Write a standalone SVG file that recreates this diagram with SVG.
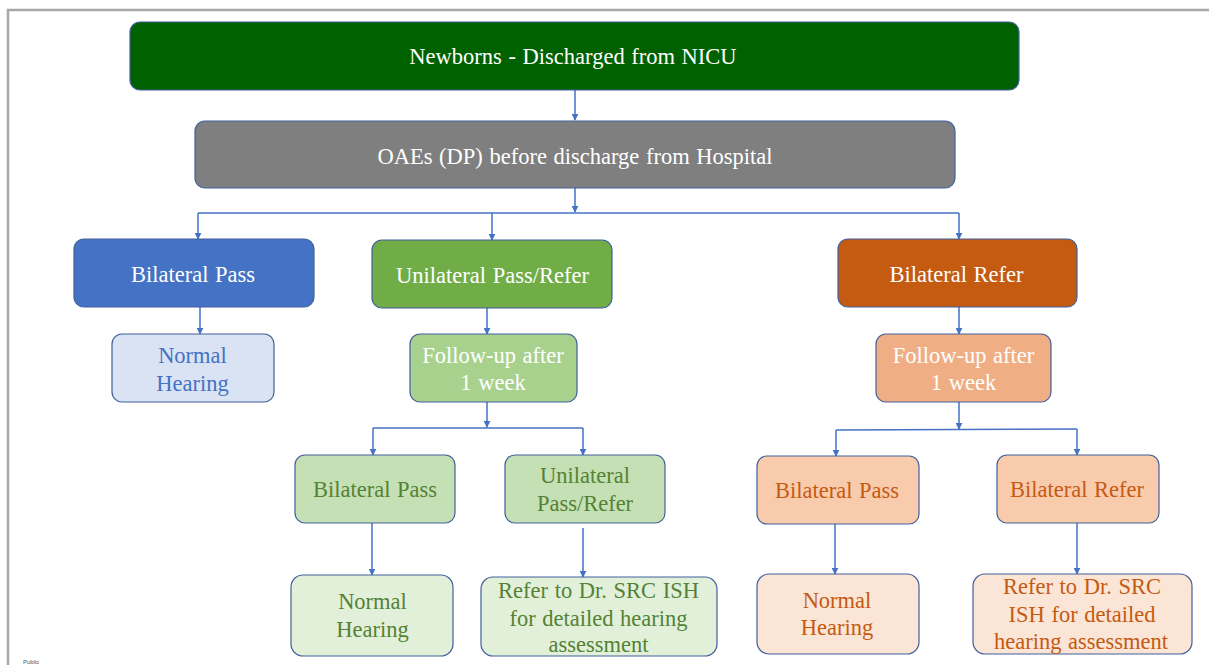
<svg xmlns="http://www.w3.org/2000/svg" width="1209" height="665" viewBox="0 0 1209 665">
<style>
.n{stroke:#41609c;stroke-width:1.2}
.t{font-family:'Liberation Serif','DejaVu Serif',serif;font-size:22.5px;text-anchor:middle;word-spacing:1px}
.w{fill:#ffffff}
.g{fill:#548235}
.o{fill:#c55a11}
.b{fill:#4472c4}
.c line,.c path{stroke:#4472c4;stroke-width:1.5;fill:none}
</style>
<defs>
<marker id="a" viewBox="0 0 10 10" refX="9" refY="5" markerWidth="7" markerHeight="7" markerUnits="userSpaceOnUse" orient="auto">
<path d="M0,0 L10,5 L0,10 z" fill="#4472c4"/>
</marker>
</defs>
<rect width="1209" height="665" fill="#ffffff"/>
<path d="M8,665 V10 H1209" fill="none" stroke="#a6a8ab" stroke-width="2.5"/>
<text x="23" y="664" font-family="'Liberation Sans',Arial,sans-serif" font-size="6" fill="#555555">Public</text>

<g class="c">
<line x1="575" y1="90" x2="575" y2="120" marker-end="url(#a)"/>
<line x1="575" y1="188" x2="575" y2="212" marker-end="url(#a)"/>
<line x1="198" y1="213" x2="959" y2="213"/>
<line x1="198" y1="213" x2="198" y2="239" marker-end="url(#a)"/>
<line x1="492" y1="213" x2="492" y2="240" marker-end="url(#a)"/>
<line x1="959" y1="213" x2="959" y2="239" marker-end="url(#a)"/>
<line x1="200" y1="307" x2="200" y2="334" marker-end="url(#a)"/>
<line x1="487" y1="308" x2="487" y2="334" marker-end="url(#a)"/>
<line x1="959" y1="307" x2="959" y2="334" marker-end="url(#a)"/>
<line x1="487" y1="402" x2="487" y2="427" marker-end="url(#a)"/>
<line x1="373" y1="428" x2="583" y2="428"/>
<line x1="373" y1="428" x2="373" y2="455" marker-end="url(#a)"/>
<line x1="583" y1="428" x2="583" y2="455" marker-end="url(#a)"/>
<line x1="959" y1="402" x2="959" y2="429" marker-end="url(#a)"/>
<line x1="836" y1="430" x2="1077" y2="429"/>
<line x1="836" y1="430" x2="836" y2="456" marker-end="url(#a)"/>
<line x1="1077" y1="429" x2="1077" y2="455" marker-end="url(#a)"/>
<line x1="372" y1="523" x2="372" y2="575" marker-end="url(#a)"/>
<line x1="583" y1="528" x2="583" y2="577" marker-end="url(#a)"/>
<line x1="835" y1="524" x2="835" y2="574" marker-end="url(#a)"/>
<line x1="1077" y1="523" x2="1077" y2="574" marker-end="url(#a)"/>
</g>

<g id="n-newborns"><rect class="n" x="130" y="22" width="889" height="68" rx="10" fill="#006100"/><text class="t w" x="573" y="64">Newborns - Discharged from NICU</text></g>
<g id="n-oae"><rect class="n" x="195" y="121" width="760" height="67" rx="10" fill="#7f7f7f"/><text class="t w" x="575" y="164">OAEs (DP) before discharge from Hospital</text></g>
<g id="n-bp"><rect class="n" x="74" y="239" width="240" height="68" rx="10" fill="#4472c4"/><text class="t w" x="193" y="282">Bilateral Pass</text></g>
<g id="n-up"><rect class="n" x="372" y="240" width="240" height="68" rx="10" fill="#70ad47"/><text class="t w" x="492.5" y="283">Unilateral Pass/Refer</text></g>
<g id="n-br"><rect class="n" x="838" y="239" width="239" height="68" rx="10" fill="#c55a11"/><text class="t w" x="956.5" y="282">Bilateral Refer</text></g>
<g id="n-nh1"><rect class="n" x="112" y="334" width="162" height="68" rx="10" fill="#dae3f3"/><text class="t b" x="192.5" y="363">Normal</text><text class="t b" x="192.5" y="391">Hearing</text></g>
<g id="n-fu1"><rect class="n" x="410" y="334" width="167" height="68" rx="10" fill="#a9d18e"/><text class="t w" x="493" y="363">Follow-up after</text><text class="t w" x="493" y="390">1 week</text></g>
<g id="n-fu2"><rect class="n" x="876" y="334" width="175" height="68" rx="10" fill="#f0ae84"/><text class="t w" x="963.5" y="363">Follow-up after</text><text class="t w" x="963.5" y="390">1 week</text></g>
<g id="n-bp2"><rect class="n" x="295" y="455" width="160" height="68" rx="10" fill="#c5e0b4"/><text class="t g" x="375" y="497">Bilateral Pass</text></g>
<g id="n-up2"><rect class="n" x="505" y="455" width="160" height="68" rx="10" fill="#c5e0b4"/><text class="t g" x="585" y="483">Unilateral</text><text class="t g" x="585" y="511">Pass/Refer</text></g>
<g id="n-nh2"><rect class="n" x="291" y="575" width="162" height="81" rx="12" fill="#e2f0d9"/><text class="t g" x="372.5" y="609">Normal</text><text class="t g" x="372.5" y="637">Hearing</text></g>
<g id="n-ref1"><rect class="n" x="481" y="577" width="236" height="79" rx="12" fill="#e2f0d9"/><text class="t g" x="598.5" y="598">Refer to Dr. SRC ISH</text><text class="t g" x="598.5" y="626">for detailed hearing</text><text class="t g" x="598.5" y="652">assessment</text></g>
<g id="n-bp3"><rect class="n" x="757" y="456" width="162" height="68" rx="10" fill="#f8cbad"/><text class="t o" x="837" y="498">Bilateral Pass</text></g>
<g id="n-br2"><rect class="n" x="997" y="455" width="162" height="68" rx="10" fill="#f8cbad"/><text class="t o" x="1077" y="497">Bilateral Refer</text></g>
<g id="n-nh3"><rect class="n" x="757" y="574" width="162" height="80" rx="12" fill="#fbe5d6"/><text class="t o" x="837" y="608">Normal</text><text class="t o" x="837" y="635">Hearing</text></g>
<g id="n-ref2"><rect class="n" x="973" y="574" width="219" height="80" rx="12" fill="#fbe5d6"/><text class="t o" x="1082" y="594">Refer to Dr. SRC</text><text class="t o" x="1082" y="622">ISH for detailed</text><text class="t o" x="1081" y="649">hearing assessment</text></g>
</svg>
